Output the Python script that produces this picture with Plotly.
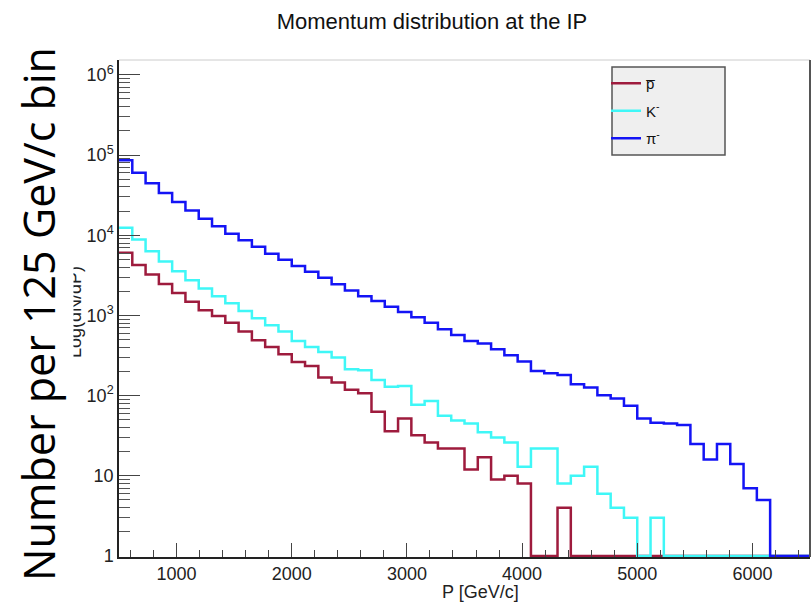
import numpy as np
import plotly.graph_objects as go

# ---------------- data ----------------
p_min, p_max, n_bins = 500.0, 6500.0, 52

pbar_counts = [6040, 4240, 3250, 2460, 1900, 1485, 1157, 983, 813, 629,
               490, 405, 328, 263, 235, 168, 146, 118, 107, 63,
               36, 52, 32, 26, 22, 22, 12, 17, 9, 10,
               8, 0, 0, 4, 0, 0, 0, 0, 0, 0,
               0, 0, 0, 0, 0, 0, 0, 0, 0, 0, 0, 0]

kminus_counts = [12400, 8850, 6320, 4710, 3560, 2750, 2170, 1740, 1415, 1135,
                 921, 754, 629, 481, 405, 351, 299, 214, 207, 157,
                 129, 132, 77, 86, 56, 49, 45, 35, 30, 26,
                 13, 22, 22, 8, 10, 13, 6, 4, 3, 0,
                 3, 0, 0, 0, 0, 0, 0, 0, 0, 0, 0, 0]

piminus_counts = [86000, 60000, 44400, 33700, 26000, 20300, 16100, 12900, 10400, 8670,
                  7180, 5870, 4950, 4120, 3510, 2950, 2440, 2050, 1740, 1510,
                  1285, 1100, 947, 813, 671, 570, 481, 446, 379, 319,
                  266, 203, 190, 181, 139, 126, 101, 92, 75, 52,
                  46, 45, 43, 25, 16, 25, 14, 7, 5, 0, 0, 0]

series_names = ["p\u0305", "K<sup>-</sup>", "\u03c0<sup>-</sup>"]
series_colors = ["#9e1b3d", "#3ff7f7", "#1414f5"]

x_tick_vals = [1000, 2000, 3000, 4000, 5000, 6000]
x_tick_text = ["1000", "2000", "3000", "4000", "5000", "6000"]
y_tick_vals = [1, 10, 100, 1e3, 1e4, 1e5, 1e6]
y_tick_text = ["1", "10", "10<sup>2</sup>", "10<sup>3</sup>", "10<sup>4</sup>",
               "10<sup>5</sup>", "10<sup>6</sup>"]

title_text = "Momentum distribution at the IP"
x_title = "P [GeV/c]"
y_title_orig = "Log(dN/dP)"
y_title_new = "Number per 125 GeV/c bin"

# ---------------- figure ----------------
edges = np.linspace(p_min, p_max, n_bins + 1)
floor = 1.0  # empty bins are drawn on the bottom of the log frame (ROOT style)

fig = go.Figure()
for counts, name, color in zip([pbar_counts, kminus_counts, piminus_counts],
                               series_names, series_colors):
    c = np.asarray(counts, dtype=float)
    yv = np.where(c > 0, c, floor)
    yv = np.append(yv, yv[-1])
    fig.add_trace(go.Scatter(
        x=edges, y=yv, mode="lines", name=name,
        line=dict(shape="hv", color=color, width=2.5),
        legendgroup=name, hoverinfo="skip"))

W, H = 812, 603
ml, mr, mt, mb = 119, 2, 60, 46
pw, ph = W - ml - mr, H - mt - mb

def px(xp):
    return (xp - ml) / pw

def py(yp):
    return (H - mb - yp) / ph

axis_font = dict(family="Liberation Sans, Arial, sans-serif", size=18, color="#222")

minor_x = [v for v in range(600, 6500, 200) if v % 1000 != 0]
minor_y = [m * 10 ** d for d in range(0, 6) for m in range(2, 10)]

fig.update_layout(
    width=W, height=H,
    margin=dict(l=ml, r=mr, t=mt, b=mb),
    paper_bgcolor="white", plot_bgcolor="white",
    showlegend=True,
    title=dict(text=title_text, xref="container", x=432 / W, xanchor="center",
               yref="container", y=1 - 21 / H, yanchor="middle",
               font=dict(family="Liberation Sans, Arial, sans-serif", size=22, color="#111")),
    xaxis=dict(range=[p_min, p_max], tickmode="array", tickvals=x_tick_vals, ticktext=x_tick_text,
               ticks="inside", ticklen=14, tickwidth=1.2, tickcolor="#444",
               showline=True, linecolor="#222", linewidth=1.5, mirror=False,
               showgrid=False, zeroline=False, tickfont=axis_font,
               minor=dict(tickmode="array", tickvals=minor_x, ticks="inside",
                          ticklen=7, tickwidth=1.2, tickcolor="#444", showgrid=False)),
    yaxis=dict(type="log", range=[-0.012, 6.185], tickmode="array", tickvals=y_tick_vals,
               ticktext=y_tick_text, ticks="inside", ticklen=21, tickwidth=1.2, tickcolor="#444",
               showline=True, linecolor="#222", linewidth=1.5, mirror=False,
               showgrid=False, zeroline=False, tickfont=axis_font,
               minor=dict(tickmode="array", tickvals=minor_y, ticks="inside",
                          ticklen=11, tickwidth=1.2, tickcolor="#555", showgrid=False)),
    legend=dict(x=px(606), y=py(67), xanchor="left", yanchor="top",
                bgcolor="rgba(0,0,0,0)", borderwidth=0, tracegroupgap=5,
                itemwidth=30,
                font=dict(family="Liberation Sans, Arial, sans-serif", size=15, color="#111")),
)

# legend box (ROOT style) and frame lines
fig.add_shape(type="rect", xref="paper", yref="paper",
              x0=px(612), x1=px(725), y0=py(155), y1=py(67),
              fillcolor="#efefef", line=dict(color="#555", width=1.5), layer="above")
fig.add_shape(type="line", xref="paper", yref="paper", x0=0, x1=1, y0=1, y1=1,
              line=dict(color="#cccccc", width=1))
fig.add_shape(type="line", xref="paper", yref="paper", x0=1, x1=1, y0=0, y1=1,
              line=dict(color="#555555", width=2))

# axis titles
fig.add_annotation(text=x_title, xref="paper", yref="paper", x=px(480), y=py(592),
                   xanchor="center", yanchor="middle", showarrow=False,
                   font=dict(family="Liberation Sans, Arial, sans-serif", size=18, color="#222"))
fig.add_annotation(text=y_title_orig, xref="paper", yref="paper", x=px(75), y=py(312),
                   xanchor="center", yanchor="middle", showarrow=False, textangle=-90,
                   font=dict(family="Liberation Sans, Arial, sans-serif", size=18, color="#222"))
fig.add_annotation(text=y_title_new, xref="paper", yref="paper", x=px(38), y=py(314),
                   xanchor="center", yanchor="middle", showarrow=False, textangle=-90,
                   bgcolor="white", borderpad=5,
                   font=dict(family="Open Sans, sans-serif", size=43, color="#000"))

fig.write_html("out.html")
